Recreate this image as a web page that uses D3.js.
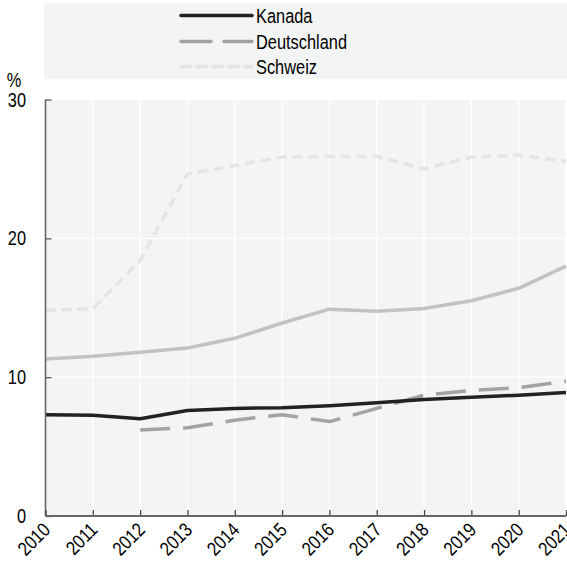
<!DOCTYPE html>
<html>
<head>
<meta charset="utf-8">
<script src="https://cdn.jsdelivr.net/npm/d3@7"></script>
<style>
  body { margin: 0; background: #fff; }
  svg text { font-family: "Liberation Sans", Arial, sans-serif; fill: #000; }
</style>
</head>
<body>
<div id="chart"></div>
<script>
"use strict";

const years = [2010, 2011, 2012, 2013, 2014, 2015, 2016, 2017, 2018, 2019, 2020, 2021];
const kanada = [7.3, 7.25, 7.0, 7.6, 7.75, 7.8, 7.95, 8.15, 8.4, 8.55, 8.7, 8.9];
const deutschland = [null, null, 6.2, 6.35, 6.9, 7.3, 6.8, 7.75, 8.7, 9.05, 9.25, 9.7];
const ohneLegende = [11.3, 11.5, 11.8, 12.1, 12.8, 13.9, 14.9, 14.75, 14.95, 15.5, 16.4, 18.0];
const schweiz = [14.8, 14.95, 18.4, 24.65, 25.25, 25.85, 25.9, 25.9, 25.0, 25.85, 26.0, 25.55];
const yTicks = [0, 10, 20, 30];
const legendNames = ["Kanada", "Deutschland", "Schweiz"];

const plotChart = () => {
  const width = 567;
  const height = 567;
  const margin = { top: 99.5, right: 1, bottom: 51, left: 45.5 };
  const innerW = width - margin.left - margin.right;
  const innerH = height - margin.top - margin.bottom;
  const fontSize = "19.5px";
  // squeeze text a bit so it looks like a narrow face
  const narrow = " scale(0.84,1)";

  const svg = d3
    .select("#chart")
    .append("svg")
    .attr("width", width)
    .attr("height", height);

  ///////////////////////////////////
  // legend box
  ///////////////////////////////////

  svg
    .append("rect")
    .attr("x", 44)
    .attr("y", 3)
    .attr("width", width - 44)
    .attr("height", 76)
    .attr("fill", "#f3f5f4");

  const series = [
    { name: "Kanada", values: kanada, color: "#222222", dash: null, width: 3.5 },
    { name: "Deutschland", values: deutschland, color: "#a3a3a3", dash: "30,13", width: 3.5 },
    { name: "Schweiz", values: schweiz, color: "#e3e4e4", dash: "10,6", width: 3.5 },
    { name: "", values: ohneLegende, color: "#c2c2c2", dash: null, width: 3.5 },
  ];

  const legendRows = [15.5, 41.5, 66.5];
  legendNames.forEach((n, i) => {
    const s = series.find((d) => d.name === n);
    svg
      .append("line")
      .attr("x1", 181)
      .attr("x2", 252)
      .attr("y1", legendRows[i])
      .attr("y2", legendRows[i])
      .attr("stroke", s.color)
      .attr("stroke-width", s.width)
      .attr("stroke-linecap", "round")
      .attr("stroke-dasharray", s.dash);
    svg
      .append("text")
      .attr("transform", "translate(256," + legendRows[i] + ")" + narrow)
      .attr("dy", "0.36em")
      .style("font-size", fontSize)
      .text(n);
  });

  const g = svg
    .append("g")
    .attr("transform", "translate(" + margin.left + "," + margin.top + ")");

  ///////////////////////////////////
  // scales
  ///////////////////////////////////

  const x = d3.scaleLinear().domain([2010, 2021]).range([0, innerW]);
  const y = d3.scaleLinear().domain([0, 30]).range([innerH, 0]);

  g.append("rect")
    .attr("width", innerW)
    .attr("height", innerH)
    .attr("fill", "#f3f5f4");

  // grid
  g.selectAll(".vgrid")
    .data(years.slice(1))
    .enter()
    .append("line")
    .attr("x1", (d) => x(d))
    .attr("x2", (d) => x(d))
    .attr("y1", 0)
    .attr("y2", innerH)
    .attr("stroke", "#fff")
    .attr("stroke-width", 1.2);
  g.selectAll(".hgrid")
    .data(yTicks.slice(1))
    .enter()
    .append("line")
    .attr("x1", 0)
    .attr("x2", innerW)
    .attr("y1", (d) => y(d))
    .attr("y2", (d) => y(d))
    .attr("stroke", "#fff")
    .attr("stroke-width", 1.2);

  ///////////////////////////////////
  // lines
  ///////////////////////////////////

  const line = d3
    .line()
    .defined((d) => d != null)
    .x((d, i) => x(years[i]))
    .y((d) => y(d));

  [series[3], series[2], series[1], series[0]].forEach((s) => {
    g.append("path")
      .datum(s.values)
      .attr("d", line)
      .attr("fill", "none")
      .attr("stroke", s.color)
      .attr("stroke-width", s.width)
      .attr("stroke-dasharray", s.dash)
      .attr("stroke-linejoin", "round");
  });

  ///////////////////////////////////
  // axes
  ///////////////////////////////////

  const yAxis = g
    .append("g")
    .call(d3.axisRight(y).tickValues(yTicks).tickSize(6).tickFormat(""));
  yAxis.select(".domain").remove();
  yAxis.selectAll("line").attr("stroke", "#555").attr("stroke-width", 1.3);
  g.append("line")
    .attr("x1", 0)
    .attr("x2", 0)
    .attr("y1", 0)
    .attr("y2", innerH)
    .attr("stroke", "#666")
    .attr("stroke-width", 1.6);

  g.selectAll(".ylab")
    .data(yTicks)
    .enter()
    .append("text")
    .attr("transform", (d) => "translate(-19.5," + y(d) + ")" + narrow)
    .attr("dy", "0.36em")
    .attr("text-anchor", "end")
    .style("font-size", fontSize)
    .text((d) => d);

  svg
    .append("text")
    .attr("transform", "translate(14,87)" + narrow)
    .attr("text-anchor", "middle")
    .style("font-size", fontSize)
    .text("%");

  const xAxis = g
    .append("g")
    .attr("transform", "translate(0," + innerH + ")")
    .call(d3.axisTop(x).tickValues(years).tickSize(6).tickFormat(""));
  xAxis.select(".domain").remove();
  xAxis.selectAll("line").attr("stroke", "#444").attr("stroke-width", 1.3);
  g.append("line")
    .attr("x1", 0)
    .attr("x2", innerW)
    .attr("y1", innerH)
    .attr("y2", innerH)
    .attr("stroke", "#666")
    .attr("stroke-width", 1.8);

  g.selectAll(".xlab")
    .data(years)
    .enter()
    .append("text")
    .attr(
      "transform",
      (d) =>
        "translate(" + (x(d) + 6) + "," + (innerH + 15) + ") rotate(-45)" + narrow
    )
    .attr("text-anchor", "end")
    .style("font-size", fontSize)
    .text((d) => d);
};

plotChart();
</script>
</body>
</html>
